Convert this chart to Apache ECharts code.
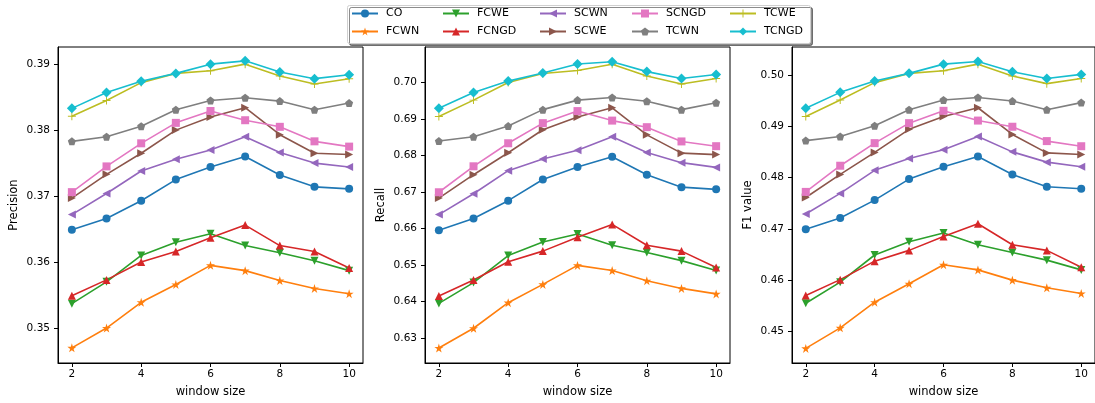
<!DOCTYPE html>
<html lang="en">

<head>
    <meta charset="UTF-8">
    <title>window size</title>
    <style>
        html, body { margin: 0; padding: 0; background: #fff; }
    </style>
</head>

<body>
    <div id="main" style="width: 1095px; height: 403px;"></div>

    <script src="https://cdn.jsdelivr.net/npm/echarts@6/dist/echarts.min.js"></script>
    <script>
        // 数据
        var windowSizes = [2, 3, 4, 5, 6, 7, 8, 9, 10]
        var methods = ['CO', 'FCWN', 'FCWE', 'FCNGD', 'SCWN', 'SCWE', 'SCNGD', 'TCWN', 'TCWE', 'TCNGD']

        var precision = [
            [0.3649, 0.3666, 0.3693, 0.3725, 0.3744, 0.3760, 0.3732, 0.3714, 0.3711],
            [0.3470, 0.3500, 0.3539, 0.3566, 0.3595, 0.3587, 0.3572, 0.3560, 0.3552],
            [0.3537, 0.3570, 0.3610, 0.3630, 0.3643, 0.3625, 0.3614, 0.3602, 0.3587],
            [0.3549, 0.3573, 0.3600, 0.3616, 0.3637, 0.3656, 0.3625, 0.3616, 0.3591],
            [0.3672, 0.3704, 0.3738, 0.3756, 0.3770, 0.3790, 0.3766, 0.3750, 0.3744],
            [0.3697, 0.3733, 0.3765, 0.3800, 0.3820, 0.3834, 0.3793, 0.3765, 0.3763],
            [0.3706, 0.3745, 0.3780, 0.3811, 0.3829, 0.3815, 0.3805, 0.3783, 0.3775],
            [0.3783, 0.3790, 0.3806, 0.3831, 0.3845, 0.3849, 0.3844, 0.3831, 0.3841],
            [0.3821, 0.3845, 0.3872, 0.3886, 0.3890, 0.3900, 0.3882, 0.3870, 0.3878],
            [0.3833, 0.3857, 0.3874, 0.3886, 0.3900, 0.3905, 0.3888, 0.3878, 0.3884]
        ]
        var recall = [
            [0.6595, 0.6627, 0.6676, 0.6734, 0.6768, 0.6796, 0.6747, 0.6713, 0.6707],
            [0.6273, 0.6327, 0.6397, 0.6447, 0.6499, 0.6485, 0.6457, 0.6436, 0.6421],
            [0.6395, 0.6452, 0.6526, 0.6563, 0.6585, 0.6554, 0.6534, 0.6512, 0.6485],
            [0.6415, 0.6459, 0.6509, 0.6538, 0.6576, 0.6611, 0.6554, 0.6538, 0.6493],
            [0.6638, 0.6695, 0.6758, 0.6790, 0.6814, 0.6851, 0.6808, 0.6780, 0.6767],
            [0.6683, 0.6747, 0.6807, 0.6870, 0.6905, 0.6930, 0.6856, 0.6806, 0.6802],
            [0.6699, 0.6770, 0.6833, 0.6888, 0.6921, 0.6895, 0.6877, 0.6838, 0.6825],
            [0.6839, 0.6851, 0.6880, 0.6925, 0.6951, 0.6958, 0.6948, 0.6925, 0.6944],
            [0.6906, 0.6951, 0.6999, 0.7024, 0.7032, 0.7049, 0.7017, 0.6995, 0.7010],
            [0.6929, 0.6972, 0.7003, 0.7025, 0.7050, 0.7056, 0.7029, 0.7010, 0.7021]
        ]
        var f1 = [
            [0.4699, 0.4721, 0.4756, 0.4797, 0.4821, 0.4841, 0.4806, 0.4782, 0.4778],
            [0.4467, 0.4507, 0.4557, 0.4593, 0.4630, 0.4620, 0.4600, 0.4585, 0.4574],
            [0.4555, 0.4596, 0.4649, 0.4675, 0.4692, 0.4669, 0.4654, 0.4639, 0.4620],
            [0.4570, 0.4601, 0.4637, 0.4658, 0.4685, 0.4710, 0.4669, 0.4658, 0.4625],
            [0.4729, 0.4769, 0.4814, 0.4837, 0.4854, 0.4880, 0.4850, 0.4830, 0.4821],
            [0.4761, 0.4806, 0.4849, 0.4894, 0.4919, 0.4936, 0.4884, 0.4848, 0.4845],
            [0.4772, 0.4823, 0.4867, 0.4906, 0.4930, 0.4911, 0.4899, 0.4871, 0.4861],
            [0.4872, 0.4880, 0.4901, 0.4932, 0.4951, 0.4956, 0.4949, 0.4932, 0.4946],
            [0.4919, 0.4951, 0.4985, 0.5003, 0.5008, 0.5021, 0.4998, 0.4983, 0.4993],
            [0.4935, 0.4966, 0.4988, 0.5003, 0.5021, 0.5026, 0.5006, 0.4993, 0.5001]
        ]

        var xTicks = [2, 4, 6, 8, 10]
        var precTicks = [0.35, 0.36, 0.37, 0.38, 0.39]
        var recallTicks = [0.63, 0.64, 0.65, 0.66, 0.67, 0.68, 0.69, 0.70]
        var f1Ticks = [0.45, 0.46, 0.47, 0.48, 0.49, 0.50]

        var colors = ['#1f77b4', '#ff7f0e', '#2ca02c', '#d62728', '#9467bd',
            '#8c564b', '#e377c2', '#7f7f7f', '#bcbd22', '#17becf']

        // matplotlib 风格的标记
        var symbols = [
            'circle',
            'path://M0,-1L0.2245,-0.309L0.951,-0.309L0.363,0.118L0.588,0.809L0,0.382L-0.588,0.809L-0.363,0.118L-0.951,-0.309L-0.2245,-0.309Z',
            'path://M-1,-1L1,-1L0,1Z',
            'path://M0,-1L1,1L-1,1Z',
            'path://M1,-1L1,1L-1,0Z',
            'path://M-1,-1L-1,1L1,0Z',
            'rect',
            'path://M0,-1L0.951,-0.309L0.588,0.809L-0.588,0.809L-0.951,-0.309Z',
            'path://M-1,-0.12L-0.12,-0.12L-0.12,-1L0.12,-1L0.12,-0.12L1,-0.12L1,0.12L0.12,0.12L0.12,1L-0.12,1L-0.12,0.12L-1,0.12Z',
            'path://M0,-1L1,0L0,1L-1,0Z'
        ]
        var symbolSizes = [8, 9, 8, 8, 8, 8, 8, 8, 8, 10]

        var font = 'DejaVu Sans'
        var panels = [
            { data: precision, name: 'Precision', ticks: precTicks, min: 0.3447, max: 0.3926, left: 58 },
            { data: recall, name: 'Recall', ticks: recallTicks, min: 0.6232, max: 0.70963, left: 425 },
            { data: f1, name: 'F1 value', ticks: f1Ticks, min: 0.44385, max: 0.50544, left: 792 }
        ]

        var grids = [], xAxes = [], yAxes = [], series = []
        panels.forEach(function (p, k) {
            grids.push({
                left: p.left, top: 47, width: 305, height: 317,
                show: true, borderColor: '#000', borderWidth: 1, backgroundColor: 'transparent'
            })
            xAxes.push({
                type: 'value', gridIndex: k, min: 1.6, max: 10.4,
                name: 'window size', nameLocation: 'middle', nameGap: 23,
                nameTextStyle: { color: '#000', fontSize: 11.5, fontFamily: font },
                axisLine: { onZero: false, lineStyle: { color: '#000' } },
                axisTick: { customValues: xTicks, length: 4, lineStyle: { color: '#000' } },
                axisLabel: { customValues: xTicks, color: '#000', fontSize: 10.5, fontFamily: font, margin: 6 },
                splitLine: { show: false }
            })
            yAxes.push({
                type: 'value', gridIndex: k, min: p.min, max: p.max,
                name: p.name, nameLocation: 'middle', nameGap: 38,
                nameTextStyle: { color: '#000', fontSize: 11.5, fontFamily: font },
                axisLine: { show: true, lineStyle: { color: '#000' } },
                axisTick: { show: true, customValues: p.ticks, length: 4, lineStyle: { color: '#000' } },
                axisLabel: {
                    customValues: p.ticks, color: '#000', fontSize: 10.5, fontFamily: font, margin: 8,
                    formatter: function (v) { return v.toFixed(2) }
                },
                splitLine: { show: false }
            })
            methods.forEach(function (m, i) {
                series.push({
                    name: m, type: 'line', xAxisIndex: k, yAxisIndex: k,
                    data: windowSizes.map(function (w, j) { return [w, p.data[i][j]] }),
                    symbol: symbols[i], symbolSize: symbolSizes[i],
                    lineStyle: { color: colors[i], width: 1.6 },
                    itemStyle: { color: colors[i] },
                    emphasis: { disabled: true },
                    animation: false
                })
            })
        })

        // 图例：5 列，每列 2 项
        var legendCols = [['CO', 'FCWN'], ['FCWE', 'FCNGD'], ['SCWN', 'SCWE'], ['SCNGD', 'TCWN'], ['TCWE', 'TCNGD']]
        var legendLeft = [351, 442, 539, 631, 729]
        var legends = legendCols.map(function (col, c) {
            return {
                data: col, orient: 'vertical', left: legendLeft[c], top: 8,
                padding: 0, itemGap: 7, itemWidth: 26, itemHeight: 10,
                textStyle: { color: '#000', fontSize: 11, fontFamily: font, padding: [0, 0, 0, 3] }
            }
        })

        var myChart = echarts.init(document.getElementById('main'))
        var option = {
            backgroundColor: '#fff',
            animation: false,
            color: colors,
            legend: legends,
            grid: grids,
            xAxis: xAxes,
            yAxis: yAxes,
            series: series,
            graphic: [{
                type: 'rect', z: 1, left: 347, top: 5,
                shape: { width: 463, height: 38, r: 2 },
                style: {
                    fill: '#fff', stroke: '#d0d0d0', lineWidth: 1,
                    shadowColor: 'rgba(0,0,0,0.45)', shadowOffsetX: 2, shadowOffsetY: 2, shadowBlur: 0
                }
            }]
        }
        myChart.setOption(option)
    </script>
</body>

</html>
